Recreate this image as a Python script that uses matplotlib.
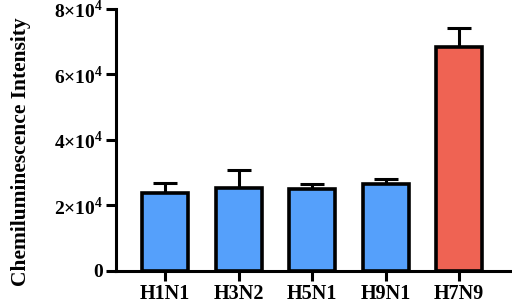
import matplotlib.pyplot as plt
import numpy as np

strains = ["H1N1", "H3N2", "H5N1", "H9N1", "H7N9"]
means = [2.38e4, 2.53e4, 2.50e4, 2.65e4, 6.84e4]
errs = [0.31e4, 0.55e4, 0.15e4, 0.15e4, 0.58e4]
colors = ["#55a0fb", "#55a0fb", "#55a0fb", "#55a0fb", "#ef6353"]
yticks = [0, 2e4, 4e4, 6e4, 8e4]
ylabels = ["0", "2×10$^4$", "4×10$^4$", "6×10$^4$", "8×10$^4$"]

plt.rcParams['font.family'] = 'Liberation Serif'
plt.rcParams['font.weight'] = 'bold'
plt.rcParams['mathtext.fontset'] = 'custom'
plt.rcParams['mathtext.rm'] = 'Liberation Serif:bold'

fig = plt.figure(figsize=(5.12, 3.05), dpi=100)
ax = fig.add_axes([0.2266, 0.1115, 0.7694, 0.859])

x = np.arange(len(strains))
ax.errorbar(x, means, yerr=[np.zeros(len(errs)), errs], fmt='none',
            ecolor='black', elinewidth=2.2, capsize=8.5, capthick=2.2, zorder=1)
ax.bar(x, means, width=0.63, color=colors, edgecolor='black', linewidth=2.6, zorder=2)

ax.set_xlim(-0.67, 4.69)
ax.set_ylim(0, 8e4)
ax.set_xticks(x)
ax.set_xticklabels(strains, fontsize=14.5, fontweight='bold')
ax.set_yticks(yticks)
ax.set_yticklabels(ylabels, fontsize=14, fontweight='bold')
ax.set_ylabel("Chemiluminescence Intensity", fontsize=15.5, fontweight='bold')
ax.yaxis.set_label_coords(-0.215, 0.455)

for s in ['top', 'right']:
    ax.spines[s].set_visible(False)
for s in ['left', 'bottom']:
    ax.spines[s].set_linewidth(2.2)
ax.tick_params(width=2.2, length=7.5, direction='out', pad=2)

fig.savefig("out.png", dpi=100)
